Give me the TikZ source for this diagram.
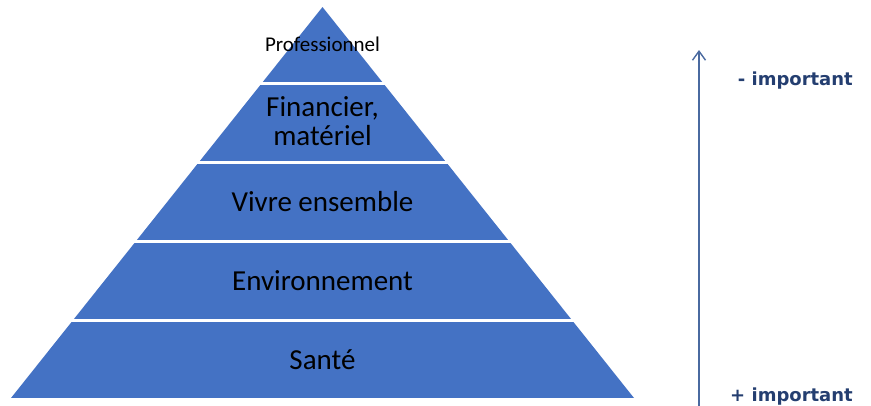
\documentclass[tikz,border=0pt]{standalone}
\usepackage{fontspec}
\setmainfont{Carlito}
\newfontfamily\labfont{DejaVu Sans}
\usetikzlibrary{arrows.meta}
\definecolor{pyrblue}{RGB}{68,114,196}
\definecolor{arrowcol}{RGB}{74,106,160}
\definecolor{labcol}{RGB}{36,62,112}
\tikzset{
  layertext/.style={text=black, align=center, font=\fontsize{29}{29}\selectfont, inner sep=0pt},
  sidelabel/.style={text=labcol, font=\labfont\bfseries\fontsize{18}{20}\selectfont, inner sep=0pt, anchor=base east}
}
\begin{document}
\begin{tikzpicture}[x=1pt,y=-1pt]
\useasboundingbox (0,0) rectangle (871,405);
\begin{scope}
  \clip (322.5,7) -- (634,398) -- (11,398) -- cycle;
  \fill[pyrblue] (0,7) rectangle (871,82);
  \fill[pyrblue] (0,85) rectangle (871,161);
  \fill[pyrblue] (0,164) rectangle (871,240);
  \fill[pyrblue] (0,243) rectangle (871,319);
  \fill[pyrblue] (0,322) rectangle (871,398);
\end{scope}
\node[layertext, font=\fontsize{21}{22}\selectfont] (l1) at (322.5,44.5) {Professionnel};
\node[layertext] (l2) at (322.5,121) {Financier,\\mat\'eriel};
\node[layertext] (l3) at (322.5,202) {Vivre ensemble};
\node[layertext] (l4) at (322.5,281) {Environnement};
\node[layertext] (l5) at (322.5,360) {Sant\'e};
\coordinate (abot) at (699,406);
\coordinate (atop) at (699,50);
\draw[arrowcol, line width=1.4pt, -{Straight Barb[length=9pt,width=13pt,line width=1.4pt]}] (abot) -- (atop);
\node[sidelabel] (minus) at (853,85) {- important};
\node[sidelabel] (plus) at (853,401) {+ important};
\end{tikzpicture}
\end{document}
